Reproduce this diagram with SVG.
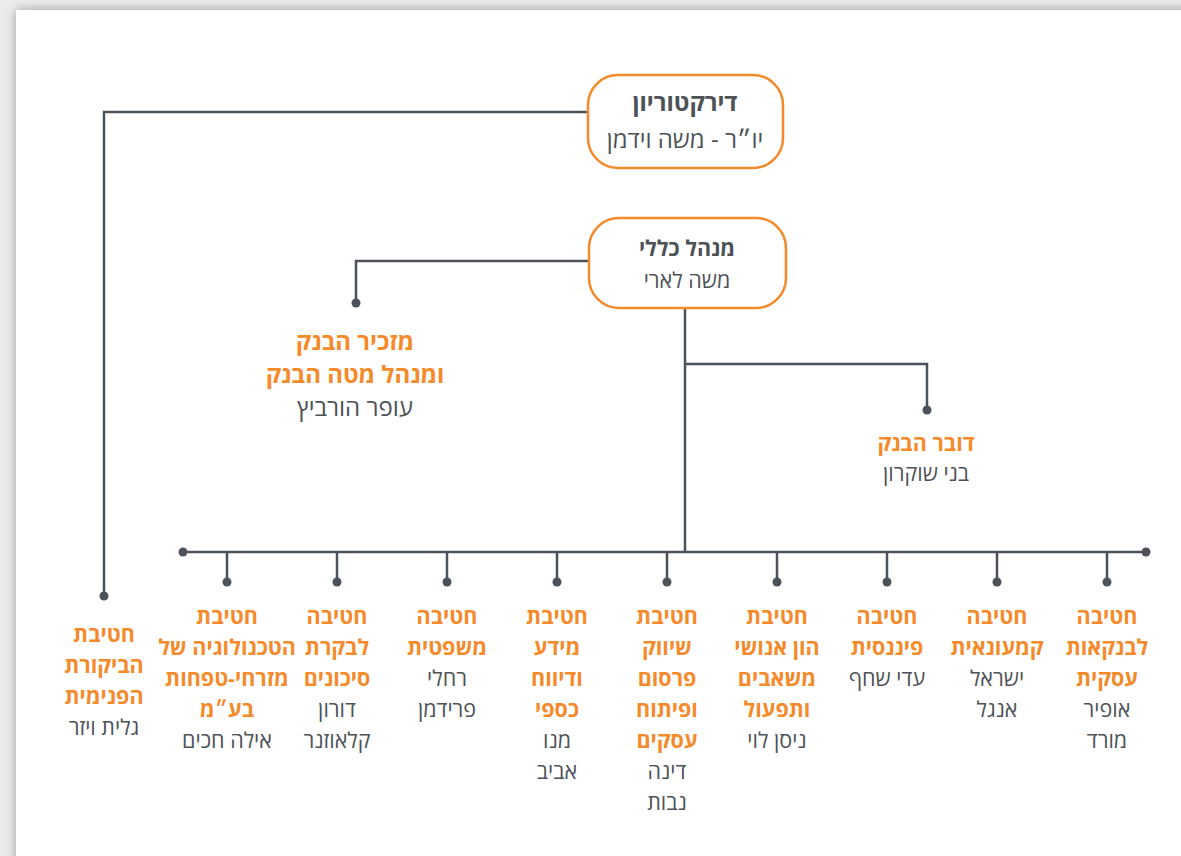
<svg xmlns="http://www.w3.org/2000/svg" width="1181" height="856" viewBox="0 0 1181 856">
<defs>
<filter id="sh" x="-5%" y="-5%" width="110%" height="110%">
<feGaussianBlur in="SourceAlpha" stdDeviation="6"/>
<feOffset dx="0" dy="0"/>
<feComponentTransfer><feFuncA type="linear" slope="0.35"/></feComponentTransfer>
<feMerge><feMergeNode/><feMergeNode in="SourceGraphic"/></feMerge>
</filter>
</defs>
<style>
text{font-family:"Open Sans","Liberation Sans","DejaVu Sans",sans-serif;font-size:21.5px;text-anchor:middle;direction:rtl}
.big{font-size:24px}
.o{fill:#F58A2B;font-weight:bold}
.g{fill:#4d5257}
.gb{fill:#4d5257;font-weight:bold}
.box{fill:#fff;stroke:#F58A2B;stroke-width:2.5}
.ln{fill:none;stroke:#4b5259;stroke-width:2.5}
.dot{fill:#4b5259}
</style>
<rect x="0" y="0" width="1181" height="856" fill="#ececec"/>
<rect x="16" y="10" width="1200" height="900" fill="#fff" filter="url(#sh)"/>
<g id="connectors">
<path class="ln" d="M588 112 H104 V596"/>
<path class="ln" d="M589 261 H356 V303"/>
<path class="ln" d="M685 308 V552"/>
<path class="ln" d="M685 364 H927 V410"/>
<path class="ln" d="M183 552 H1146"/>
<path class="ln" d="M227 552 V582 M337 552 V582 M447 552 V582 M557 552 V582 M667 552 V582 M777 552 V582 M887 552 V582 M997 552 V582 M1107 552 V582"/>
<circle class="dot" cx="104" cy="596" r="4.5"/>
<circle class="dot" cx="356" cy="303" r="4.5"/>
<circle class="dot" cx="927" cy="410" r="4.5"/>
<circle class="dot" cx="183" cy="552" r="4.5"/>
<circle class="dot" cx="1146" cy="552" r="4.5"/>
<circle class="dot" cx="227" cy="582" r="4.5"/>
<circle class="dot" cx="337" cy="582" r="4.5"/>
<circle class="dot" cx="447" cy="582" r="4.5"/>
<circle class="dot" cx="557" cy="582" r="4.5"/>
<circle class="dot" cx="667" cy="582" r="4.5"/>
<circle class="dot" cx="777" cy="582" r="4.5"/>
<circle class="dot" cx="887" cy="582" r="4.5"/>
<circle class="dot" cx="997" cy="582" r="4.5"/>
<circle class="dot" cx="1107" cy="582" r="4.5"/>
</g>
<g id="board">
<rect class="box" x="588" y="75" width="195" height="93" rx="30"/>
<text class="gb big" x="685" y="111">דירקטוריון</text>
<text class="g big" x="685" y="148">יו״ר - משה וידמן</text>
</g>
<g id="ceo">
<rect class="box" x="589" y="218" width="197" height="90" rx="30"/>
<text class="gb" x="687" y="256">מנהל כללי</text>
<text class="g" x="687" y="288">משה לארי</text>
</g>
<g id="secretary">
<text class="o big" x="355" y="350">מזכיר הבנק</text>
<text class="o big" x="355" y="383">ומנהל מטה הבנק</text>
<text class="g big" x="355" y="416">עופר הורביץ</text>
</g>
<g id="spokesman">
<text class="o" x="926" y="451">דובר הבנק</text>
<text class="g" x="926" y="481">בני שוקרון</text>
</g>
<g id="audit">
<text class="o" x="104" y="642">חטיבת</text>
<text class="o" x="104" y="673">הביקורת</text>
<text class="o" x="104" y="704">הפנימית</text>
<text class="g" x="104" y="735">גלית ויזר</text>
</g>
<g id="tech">
<text class="o" x="227" y="624">חטיבת</text>
<text class="o" x="227" y="655">הטכנולוגיה של</text>
<text class="o" x="227" y="686">מזרחי-טפחות</text>
<text class="o" x="227" y="717">בע״מ</text>
<text class="g" x="227" y="748">אילה חכים</text>
</g>
<g id="risk">
<text class="o" x="337" y="624">חטיבה</text>
<text class="o" x="337" y="655">לבקרת</text>
<text class="o" x="337" y="686">סיכונים</text>
<text class="g" x="337" y="717">דורון</text>
<text class="g" x="337" y="748">קלאוזנר</text>
</g>
<g id="legal">
<text class="o" x="447" y="624">חטיבה</text>
<text class="o" x="447" y="655">משפטית</text>
<text class="g" x="447" y="686">רחלי</text>
<text class="g" x="447" y="717">פרידמן</text>
</g>
<g id="info">
<text class="o" x="557" y="624">חטיבת</text>
<text class="o" x="557" y="655">מידע</text>
<text class="o" x="557" y="686">ודיווח</text>
<text class="o" x="557" y="717">כספי</text>
<text class="g" x="557" y="748">מנו</text>
<text class="g" x="557" y="779">אביב</text>
</g>
<g id="marketing">
<text class="o" x="667" y="624">חטיבת</text>
<text class="o" x="667" y="655">שיווק</text>
<text class="o" x="667" y="686">פרסום</text>
<text class="o" x="667" y="717">ופיתוח</text>
<text class="o" x="667" y="748">עסקים</text>
<text class="g" x="667" y="779">דינה</text>
<text class="g" x="667" y="810">נבות</text>
</g>
<g id="hr">
<text class="o" x="777" y="624">חטיבת</text>
<text class="o" x="777" y="655">הון אנושי</text>
<text class="o" x="777" y="686">משאבים</text>
<text class="o" x="777" y="717">ותפעול</text>
<text class="g" x="777" y="748">ניסן לוי</text>
</g>
<g id="finance">
<text class="o" x="887" y="624">חטיבה</text>
<text class="o" x="887" y="655">פיננסית</text>
<text class="g" x="887" y="686">עדי שחף</text>
</g>
<g id="retail">
<text class="o" x="997" y="624">חטיבה</text>
<text class="o" x="997" y="655">קמעונאית</text>
<text class="g" x="997" y="686">ישראל</text>
<text class="g" x="997" y="717">אנגל</text>
</g>
<g id="business">
<text class="o" x="1107" y="624">חטיבה</text>
<text class="o" x="1107" y="655">לבנקאות</text>
<text class="o" x="1107" y="686">עסקית</text>
<text class="g" x="1107" y="717">אופיר</text>
<text class="g" x="1107" y="748">מורד</text>
</g>
</svg>
